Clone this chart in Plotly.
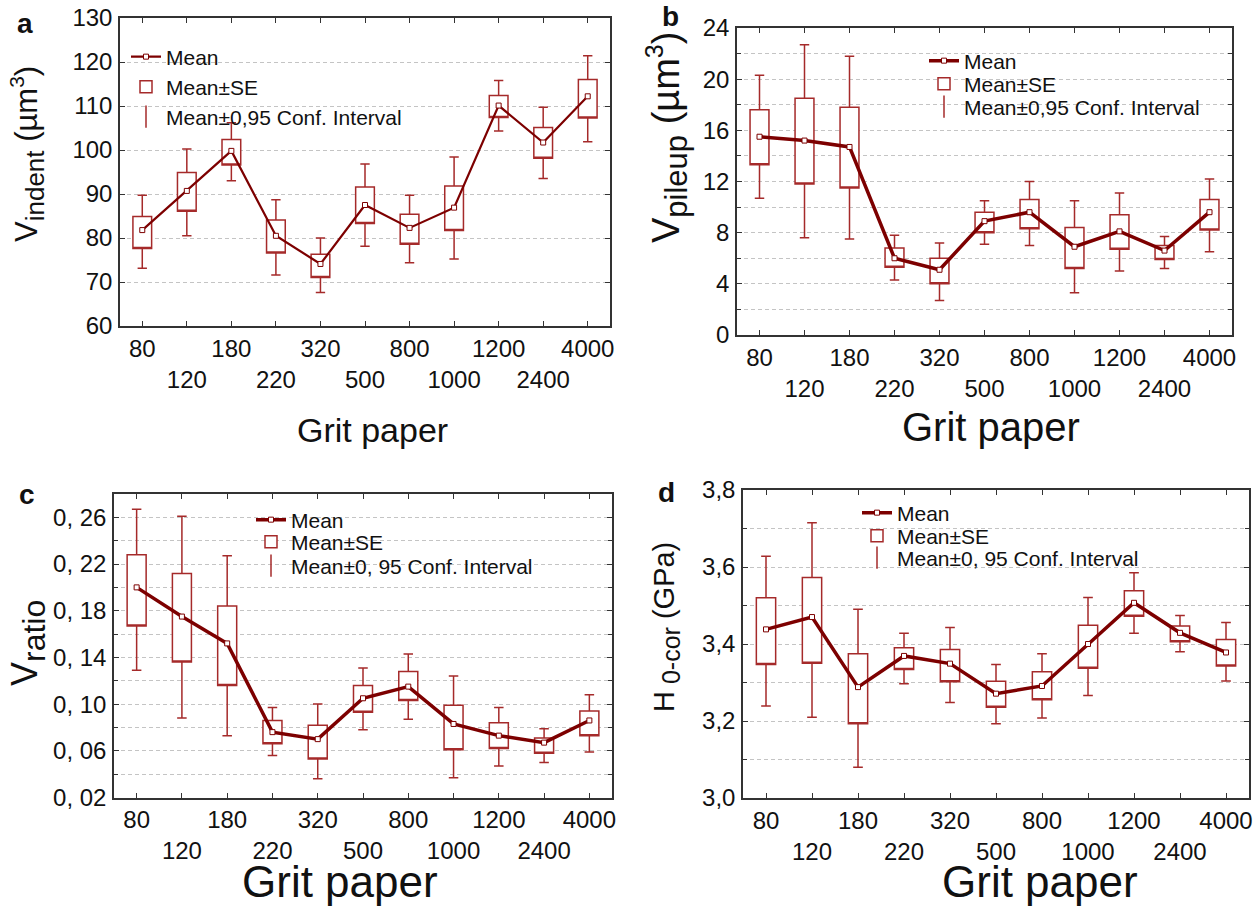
import plotly.graph_objects as go

W, H = 1258, 908

grits = ["80", "120", "180", "220", "320", "500", "800", "1000", "1200", "2400", "4000"]

# Panel a: V_indent (µm³)
a_mean = [81.8, 90.7, 99.8, 80.5, 74.1, 87.5, 82.3, 86.9, 110.1, 101.7, 112.2]
a_se_lo = [77.6, 86.1, 96.6, 76.6, 71.0, 83.3, 78.6, 81.7, 107.4, 98.1, 107.3]
a_se_hi = [84.9, 94.9, 102.4, 84.1, 76.3, 91.6, 85.4, 91.8, 112.4, 105.1, 116.0]
a_ci_lo = [73.1, 80.5, 93.0, 71.6, 67.6, 78.1, 74.4, 75.2, 104.3, 93.5, 101.9]
a_ci_hi = [89.7, 100.2, 106.2, 88.7, 80.0, 96.8, 89.7, 98.4, 115.8, 109.7, 121.4]

# Panel b: V_pileup (µm³)
b_mean = [15.5, 15.2, 14.7, 6.0, 5.1, 8.9, 9.6, 6.9, 8.1, 6.6, 9.6]
b_se_lo = [13.3, 11.8, 11.5, 5.3, 4.0, 8.0, 8.3, 5.2, 6.7, 5.9, 8.2]
b_se_hi = [17.6, 18.5, 17.8, 6.8, 6.0, 9.6, 10.6, 8.4, 9.4, 7.0, 10.6]
b_ci_lo = [10.7, 7.6, 7.5, 4.3, 2.7, 7.1, 7.0, 3.3, 5.0, 5.2, 6.5]
b_ci_hi = [20.3, 22.7, 21.8, 7.8, 7.2, 10.5, 12.0, 10.5, 11.1, 7.7, 12.2]

# Panel c: V_ratio
c_mean = [0.200, 0.175, 0.152, 0.076, 0.070, 0.105, 0.115, 0.083, 0.073, 0.067, 0.086]
c_se_lo = [0.167, 0.136, 0.116, 0.066, 0.053, 0.093, 0.103, 0.061, 0.062, 0.058, 0.073]
c_se_hi = [0.228, 0.212, 0.184, 0.086, 0.082, 0.116, 0.128, 0.099, 0.084, 0.071, 0.094]
c_ci_lo = [0.129, 0.088, 0.073, 0.056, 0.036, 0.078, 0.087, 0.037, 0.047, 0.050, 0.059]
c_ci_hi = [0.267, 0.261, 0.227, 0.097, 0.100, 0.131, 0.143, 0.124, 0.097, 0.079, 0.108]

# Panel d: H_0-cor (GPa)
d_mean = [3.438, 3.470, 3.288, 3.369, 3.349, 3.271, 3.291, 3.400, 3.507, 3.429, 3.378]
d_se_lo = [3.347, 3.350, 3.193, 3.334, 3.302, 3.236, 3.255, 3.337, 3.472, 3.406, 3.343]
d_se_hi = [3.520, 3.573, 3.375, 3.390, 3.386, 3.303, 3.328, 3.449, 3.538, 3.447, 3.412]
d_ci_lo = [3.239, 3.210, 3.080, 3.297, 3.248, 3.193, 3.208, 3.266, 3.428, 3.380, 3.304]
d_ci_hi = [3.628, 3.715, 3.490, 3.428, 3.443, 3.347, 3.375, 3.521, 3.585, 3.474, 3.456]

# Tick labels
a_ytick_vals = [60, 70, 80, 90, 100, 110, 120, 130]
a_ytick_text = ["60", "70", "80", "90", "100", "110", "120", "130"]
b_ytick_vals = [0, 4, 8, 12, 16, 20, 24]
b_ytick_text = ["0", "4", "8", "12", "16", "20", "24"]
b_minor_vals = [2, 6, 10, 14, 18, 22]
c_ytick_vals = [0.02, 0.06, 0.10, 0.14, 0.18, 0.22, 0.26]
c_ytick_text = ["0, 02", "0, 06", "0, 10", "0, 14", "0, 18", "0, 22", "0, 26"]
c_minor_vals = [0.04, 0.08, 0.12, 0.16, 0.20, 0.24, 0.28]
d_ytick_vals = [3.0, 3.2, 3.4, 3.6, 3.8]
d_ytick_text = ["3,0", "3,2", "3,4", "3,6", "3,8"]
d_minor_vals = [3.1, 3.3, 3.5, 3.7]

legend_names = ["Mean", "Mean±SE", "Mean±0,95 Conf. Interval"]
legend_names_cd = ["Mean", "Mean±SE", "Mean±0, 95 Conf. Interval"]

BOX_C = "#a52a2a"
LINE_C = "#7d0000"
GRID_C = "#c4c4c4"
FRAME_C = "#333333"
TXT_C = "#111111"
FONT = "Arial, Liberation Sans, sans-serif"


def sz(text, px):
    return f"<span style='font-size:{px}px'>{text}</span>"


panels = [
    dict(mean=a_mean, se_lo=a_se_lo, se_hi=a_se_hi, ci_lo=a_ci_lo, ci_hi=a_ci_hi,
         box=(120, 610, 18, 326), yr=[60, 130], tv=a_ytick_vals, tt=a_ytick_text, minor=None,
         lw=2.2, names=legend_names,
         leg_x=167, leg_y=[57, 87, 117],
         ytitle="V<sub>" + sz("indent", 26) + "</sub> (µm<sup>" + sz("3", 21) + "</sup>)",
         yt_pos=(27, 154), yt_size=31,
         xtitle=(372, 430), xt_size=34, letter="a", letter_pos=(25, 24)),
    dict(mean=b_mean, se_lo=b_se_lo, se_hi=b_se_hi, ci_lo=b_ci_lo, ci_hi=b_ci_hi,
         box=(737, 1232, 28, 335), yr=[0, 24], tv=b_ytick_vals, tt=b_ytick_text, minor=b_minor_vals,
         lw=3.5, names=legend_names,
         leg_x=965, leg_y=[61, 84, 107],
         ytitle="V<sub>" + sz("pileup", 31) + "</sub> (µm<sup>" + sz("3", 25) + "</sup>)",
         yt_pos=(667, 137), yt_size=38,
         xtitle=(991, 427), xt_size=40, letter="b", letter_pos=(670, 17)),
    dict(mean=c_mean, se_lo=c_se_lo, se_hi=c_se_hi, ci_lo=c_ci_lo, ci_hi=c_ci_hi,
         box=(114, 612, 494, 797.5), yr=[0.02, 0.28], tv=c_ytick_vals, tt=c_ytick_text, minor=c_minor_vals,
         lw=3.5, names=legend_names_cd,
         leg_x=292, leg_y=[520, 542, 566],
         ytitle="V<sub>" + sz("ratio", 32) + "</sub>",
         yt_pos=(28, 643), yt_size=36,
         xtitle=(340, 881), xt_size=44, letter="c", letter_pos=(27, 494)),
    dict(mean=d_mean, se_lo=d_se_lo, se_hi=d_se_hi, ci_lo=d_ci_lo, ci_hi=d_ci_hi,
         box=(743, 1249, 490, 798), yr=[3.0, 3.8], tv=d_ytick_vals, tt=d_ytick_text, minor=d_minor_vals,
         lw=3.5, names=legend_names_cd,
         leg_x=898, leg_y=[513, 536, 558],
         ytitle="H<sub>" + sz(" 0-cor", 25) + "</sub> (GPa)",
         yt_pos=(666, 627), yt_size=29,
         xtitle=(1040, 881), xt_size=44, letter="d", letter_pos=(667, 492)),
]

fig = go.Figure()
annotations = []
layout = dict(
    width=W, height=H, margin=dict(l=0, r=0, t=0, b=0, autoexpand=False),
    paper_bgcolor="white", plot_bgcolor="white",
    font=dict(family=FONT, size=22, color=TXT_C),
    boxmode="overlay",
)

xtick_text = [g if i % 2 == 0 else "<br>" + g for i, g in enumerate(grits)]

leg_idx = 0
for k, p in enumerate(panels):
    n = k + 1
    xa = "x" if n == 1 else f"x{n}"
    ya = "y" if n == 1 else f"y{n}"
    xkey = "xaxis" if n == 1 else f"xaxis{n}"
    ykey = "yaxis" if n == 1 else f"yaxis{n}"
    x0, x1, y0, y1 = p["box"]
    dom_x = [x0 / W, x1 / W]
    dom_y = [1 - y1 / H, 1 - y0 / H]

    legs = []
    for j in range(3):
        leg_idx += 1
        legs.append("legend" if leg_idx == 1 else f"legend{leg_idx}")

    # SE boxes with CI whiskers
    fig.add_trace(go.Box(
        x=grits, q1=p["se_lo"], median=p["se_lo"], q3=p["se_hi"],
        lowerfence=p["ci_lo"], upperfence=p["ci_hi"],
        width=0.42, whiskerwidth=0.5, boxpoints=False,
        fillcolor="white", line=dict(color=BOX_C, width=1.5),
        name=p["names"][1], legend=legs[1], showlegend=True,
        xaxis=xa, yaxis=ya, hoverinfo="skip",
    ))
    # Mean line
    fig.add_trace(go.Scatter(
        x=grits, y=p["mean"], mode="lines+markers",
        line=dict(color=LINE_C, width=p["lw"]),
        marker=dict(symbol="square", size=5, color="white", line=dict(color=LINE_C, width=1)),
        name=p["names"][0], legend=legs[0], showlegend=True,
        xaxis=xa, yaxis=ya,
    ))
    # CI legend entry
    fig.add_trace(go.Scatter(
        x=[None], y=[None], mode="markers",
        marker=dict(symbol="line-ns-open", size=18, color=BOX_C, line=dict(color=BOX_C, width=1.5)),
        name=p["names"][2], legend=legs[2], showlegend=True,
        xaxis=xa, yaxis=ya,
    ))

    for j in range(3):
        layout[legs[j]] = dict(
            x=(p["leg_x"] - 41) / W, xanchor="left",
            y=1 - p["leg_y"][j] / H, yanchor="middle",
            bgcolor="rgba(0,0,0,0)", borderwidth=0,
            font=dict(family=FONT, size=21, color=TXT_C),
            itemwidth=30,
        )

    layout[xkey] = dict(
        domain=dom_x, anchor=ya, type="category",
        categoryorder="array", categoryarray=grits,
        range=[-0.5, len(grits) - 0.5],
        tickmode="array", tickvals=grits, ticktext=xtick_text, tickangle=0,
        ticks="inside", ticklen=5, tickwidth=1.2, tickcolor=FRAME_C,
        showline=True, linecolor=FRAME_C, linewidth=1.5, mirror="ticks",
        showgrid=False, zeroline=False, automargin=False,
        tickfont=dict(family=FONT, size=24, color=TXT_C),
        ticklabelstandoff=0,
    )
    yd = dict(
        domain=dom_y, anchor=xa, range=p["yr"],
        tickmode="array", tickvals=p["tv"], ticktext=p["tt"],
        ticks="inside", ticklen=5, tickwidth=1.2, tickcolor=FRAME_C,
        showline=True, linecolor=FRAME_C, linewidth=1.5, mirror="ticks",
        showgrid=True, gridcolor=GRID_C, gridwidth=1, griddash="4px,3px",
        zeroline=False, automargin=False,
        tickfont=dict(family=FONT, size=24, color=TXT_C),
        ticklabelstandoff=1,
    )
    if p["minor"] is not None:
        yd["minor"] = dict(tickmode="array", tickvals=p["minor"], ticks="inside", ticklen=4,
                           tickcolor=FRAME_C, showgrid=True, gridcolor=GRID_C,
                           gridwidth=1, griddash="4px,3px")
    layout[ykey] = yd

    # y-axis title
    annotations.append(dict(
        text=p["ytitle"], xref="paper", yref="paper",
        x=p["yt_pos"][0] / W, y=1 - p["yt_pos"][1] / H,
        xanchor="center", yanchor="middle", textangle=-90, showarrow=False,
        font=dict(family=FONT, size=p["yt_size"], color=TXT_C),
    ))
    # x-axis title
    annotations.append(dict(
        text="Grit paper", xref="paper", yref="paper",
        x=p["xtitle"][0] / W, y=1 - p["xtitle"][1] / H,
        xanchor="center", yanchor="middle", showarrow=False,
        font=dict(family=FONT, size=p["xt_size"], color=TXT_C),
    ))
    # panel letter
    annotations.append(dict(
        text=f"<b>{p['letter']}</b>", xref="paper", yref="paper",
        x=p["letter_pos"][0] / W, y=1 - p["letter_pos"][1] / H,
        xanchor="center", yanchor="middle", showarrow=False,
        font=dict(family=FONT, size=28, color=TXT_C),
    ))

layout["annotations"] = annotations
fig.update_layout(**layout)
fig.write_html(
    "out.html",
    config={"displayModeBar": False},
    post_script="document.body.style.margin='0';document.body.style.padding='0';document.body.style.overflow='hidden';",
)
